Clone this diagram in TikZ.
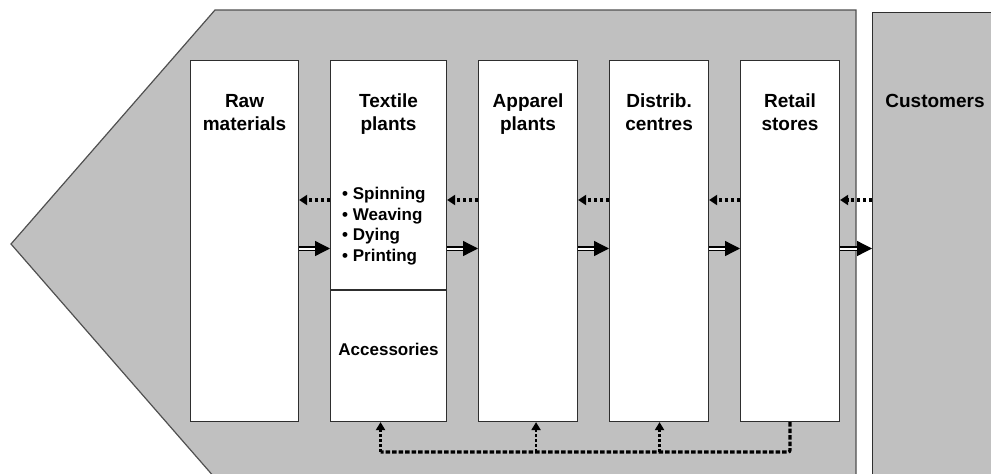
\documentclass[tikz,border=0pt]{standalone}
\usepackage{fontspec}
\setmainfont{Liberation Sans}
\usetikzlibrary{arrows.meta}
\definecolor{panel}{HTML}{C0C0C0}
\definecolor{edge}{HTML}{505050}
\definecolor{boxline}{HTML}{2E2E2E}
\begin{document}
\begin{tikzpicture}[x=1pt,y=-1pt,
  stage/.style={draw=boxline, line width=1.1pt, fill=white, anchor=north west,
    inner sep=0pt, minimum height=361pt},
  title/.style={font=\fontsize{19}{23}\selectfont\bfseries, align=center,
    anchor=north, inner sep=0pt},
  sub/.style={font=\fontsize{17}{20.7}\selectfont\bfseries, inner sep=0pt},
  flow/.style={draw=black, line width=1.3pt, double=white, double distance=2pt,
    -{Triangle[length=15pt,width=15pt]}},
  feed/.style={draw=black, line width=3.2pt, dash pattern=on 3.5pt off 2.5pt,
    -{Triangle[length=8pt,width=10pt]}},
  busline/.style={draw=black, line width=3.2pt, dash pattern=on 4.5pt off 2pt},
  busarrow/.style={draw=black, line width=2.4pt, dash pattern=on 3pt off 2pt,
    -{Triangle[length=8pt,width=9pt]}}
]
\useasboundingbox (0,0) rectangle (991,474);
\clip (0,0) rectangle (991,474);

% grey chevron panel
\draw[fill=panel, draw=edge, line width=1.2pt]
  (11,244) -- (215,10) -- (856,10) -- (856,478) -- (215,478) -- cycle;

% customers panel
\node[draw=boxline, fill=panel, line width=1.1pt, anchor=north west,
  inner sep=0pt, minimum width=140pt, minimum height=480pt] (cust) at (872,12) {};
\node[title] (custlbl) at (935,94) {Customers};

% stage boxes
\node[stage, minimum width=108pt] (raw) at (190,60) {};
\node[stage, minimum width=116pt] (textile) at (330,60) {};
\node[stage, minimum width=99pt] (apparel) at (478,60) {};
\node[stage, minimum width=99pt] (distrib) at (609,60) {};
\node[stage, minimum width=99pt] (retail) at (740,60) {};

\coordinate (divy) at (0,290);
\draw[draw=boxline, line width=1.1pt] (textile.west |- divy) -- (textile.east |- divy);

% labels
\node[title] (rawlbl) at (raw.north |- 0,94) {Raw\\materials};
\node[title] (texlbl) at (textile.north |- 0,94) {Textile\\plants};
\node[title] (applbl) at (apparel.north |- 0,94) {Apparel\\plants};
\node[title] (dislbl) at (distrib.north |- 0,94) {Distrib.\\centres};
\node[title] (retlbl) at (retail.north |- 0,94) {Retail\\stores};
\node[sub, align=left, anchor=north west] (steps) at (342,187)
  {• Spinning\\• Weaving\\• Dying\\• Printing};
\node[sub, anchor=base] (acc) at (textile.center |- 0,355) {Accessories};

% rows for arrows
\coordinate (upr) at (0,200);
\coordinate (dnr) at (0,248.5);
\coordinate (bus) at (0,452);

% information (dotted, backwards)
\draw[feed] (textile.west |- upr) -- (raw.east |- upr);
\draw[feed] (apparel.west |- upr) -- (textile.east |- upr);
\draw[feed] (distrib.west |- upr) -- (apparel.east |- upr);
\draw[feed] (retail.west |- upr) -- (distrib.east |- upr);
\draw[feed] (cust.west |- upr) -- (retail.east |- upr);

% material flow (double, forwards)
\draw[flow] (raw.east |- dnr) -- (textile.west |- dnr);
\draw[flow] (textile.east |- dnr) -- (apparel.west |- dnr);
\draw[flow] (apparel.east |- dnr) -- (distrib.west |- dnr);
\draw[flow] (distrib.east |- dnr) -- (retail.west |- dnr);
\draw[flow] (retail.east |- dnr) -- (cust.west |- dnr);

% feedback bus along the bottom
\draw[busline, rounded corners=2pt] (retail.south) |- ([xshift=-8pt]textile.south |- bus);
\draw[busarrow] ([xshift=-8pt]textile.south |- bus) -- ([xshift=-8pt]textile.south);
\draw[busarrow] ([xshift=8pt]apparel.south |- bus) -- ([xshift=8pt]apparel.south);
\draw[busarrow] ([xshift=0.5pt]distrib.south |- bus) -- ([xshift=0.5pt]distrib.south);
\end{tikzpicture}
\end{document}
